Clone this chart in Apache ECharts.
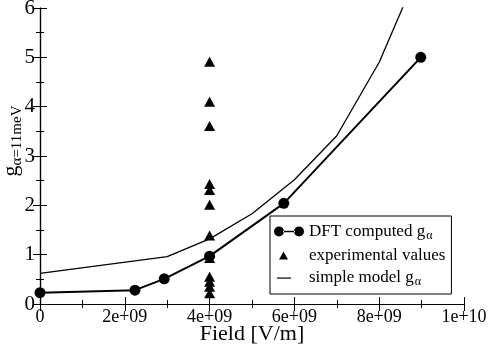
<!DOCTYPE html>
<html>
<head>
<meta charset="utf-8">
<script src="https://cdn.jsdelivr.net/npm/echarts@6/dist/echarts.min.js"></script>
<style>
  html, body { margin: 0; padding: 0; background: #fff; }
  #chart { width: 491px; height: 349px; }
</style>
</head>
<body>
<div id="chart"></div>
<script>
  // DFT computed g_alpha
  const dftField = [0, 2.24e9, 2.93e9, 4e9, 5.75e9, 8.98e9];
  const dftG = [0.23, 0.28, 0.51, 0.97, 2.04, 5.0];

  // experimental values, all at 4e9 V/m
  const expField = [4e9, 4e9, 4e9, 4e9, 4e9, 4e9, 4e9, 4e9, 4e9, 4e9, 4e9, 4e9];
  const expG = [4.91, 4.1, 3.61, 2.43, 2.31, 2.01, 1.39, 0.93, 0.55, 0.45, 0.35, 0.22];

  // simple model g_alpha
  const modelField = [0, 3e9, 4e9, 5e9, 6e9, 7e9, 8e9, 9e9];
  const modelG = [0.62, 0.96, 1.32, 1.83, 2.52, 3.41, 4.9, 6.9];

  const xTicks = { min: 0, max: 1e10, interval: 2e9 };
  const yTicks = { min: 0, max: 6, interval: 1 };

  function pairs(xs, ys) {
    return xs.map((x, i) => [x, ys[i]]);
  }

  function fmtX(v) {
    if (v === 0) return '0';
    const e = Math.floor(Math.log10(v) + 1e-9);
    const m = Math.round(v / Math.pow(10, e));
    return m + 'e+' + (e < 10 ? '0' + e : e);
  }

  const serif = '"Liberation Serif", "DejaVu Serif", serif';
  const axisLine = { show: true, lineStyle: { color: '#000', width: 1.2 } };
  const tick = { show: true, inside: true, length: 7, lineStyle: { color: '#000', width: 1 } };
  const minor = { show: true, splitNumber: 2, length: 4, lineStyle: { color: '#000', width: 1 } };

  const chart = echarts.init(document.getElementById('chart'));

  const option = {
    animation: false,
    backgroundColor: '#fff',
    grid: { left: 40, right: 27, top: 8, bottom: 45, containLabel: false, outerBoundsMode: 'none' },
    xAxis: [
      {
        type: 'value',
        min: xTicks.min, max: xTicks.max, interval: xTicks.interval,
        axisLine: axisLine, axisTick: tick, minorTick: minor,
        splitLine: { show: false },
        axisLabel: { color: '#000', fontFamily: serif, fontSize: 18, margin: 4, formatter: fmtX },
        name: 'Field [V/m]',
        nameLocation: 'middle',
        nameGap: 19,
        nameMoveOverlap: false,
        nameTextStyle: { color: '#000', fontFamily: serif, fontSize: 22 }
      },
      {
        type: 'value', position: 'top',
        min: xTicks.min, max: xTicks.max, interval: xTicks.interval,
        axisLine: axisLine, axisTick: tick, minorTick: minor,
        splitLine: { show: false }, axisLabel: { show: false }
      }
    ],
    yAxis: [
      {
        type: 'value',
        min: yTicks.min, max: yTicks.max, interval: yTicks.interval,
        axisLine: axisLine, axisTick: tick, minorTick: minor,
        splitLine: { show: false },
        axisLabel: { color: '#000', fontFamily: serif, fontSize: 21, margin: 5 },
        name: 'g{sub|α=11meV}',
        nameLocation: 'middle',
        nameRotate: 90,
        nameGap: 15,
        nameMoveOverlap: false,
        nameTextStyle: {
          color: '#000', fontFamily: serif, fontSize: 22,
          padding: [0, 0, 0, 30],
          rich: {
            sub: { fontFamily: serif, fontSize: 15, padding: [12, 0, 0, 0] }
          }
        }
      },
      {
        type: 'value', position: 'right',
        min: yTicks.min, max: yTicks.max, interval: yTicks.interval,
        axisLine: axisLine, axisTick: tick, minorTick: minor,
        splitLine: { show: false }, axisLabel: { show: false }
      }
    ],
    legend: {
      orient: 'vertical',
      left: 270,
      top: 216,
      padding: [7, 6, 6, 4],
      itemGap: 5,
      itemWidth: 30,
      itemHeight: 12,
      backgroundColor: '#fff',
      borderColor: '#000',
      borderWidth: 1,
      borderRadius: 0,
      textStyle: {
        color: '#000',
        fontFamily: serif,
        fontSize: 17,
        rich: {
          sub: { fontFamily: serif, fontSize: 12, padding: [9, 0, 0, 1] }
        }
      },
      formatter: function (name) {
        if (name === 'dft') return 'DFT computed g{sub|α}';
        if (name === 'exp') return 'experimental values';
        return 'simple model g{sub|α}';
      },
      data: [
        { name: 'dft', icon: 'path://M0,0M30,12M0,6a5,5 0 1,0 10,0a5,5 0 1,0 -10,0M9,5.2L21,5.2L21,6.8L9,6.8ZM20,6a5,5 0 1,0 10,0a5,5 0 1,0 -10,0' },
        { name: 'exp', icon: 'path://M0,0M30,12M5,10L9.5,2L14,10Z', itemStyle: { opacity: 1 } },
        { name: 'model', icon: 'path://M0,0M30,12M3,6L17,6L17,7.2L3,7.2Z' }
      ]
    },
    series: [
      {
        name: 'model',
        type: 'line',
        data: pairs(modelField, modelG),
        showSymbol: false,
        symbol: 'none',
        color: '#000',
        lineStyle: { color: '#000', width: 1.3 },
        clip: true,
        z: 2
      },
      {
        name: 'dft',
        type: 'line',
        data: pairs(dftField, dftG),
        symbol: 'circle',
        symbolSize: 11,
        color: '#000',
        itemStyle: { color: '#000' },
        lineStyle: { color: '#000', width: 2 },
        z: 3
      },
      {
        name: 'exp',
        type: 'scatter',
        data: pairs(expField, expG),
        symbol: 'triangle',
        symbolSize: [11, 10],
        color: '#000',
        itemStyle: { color: '#000', opacity: 1 },
        z: 4
      }
    ]
  };

  chart.setOption(option);

  window.addEventListener('resize', function () {
    chart.resize();
  });
</script>
</body>
</html>
